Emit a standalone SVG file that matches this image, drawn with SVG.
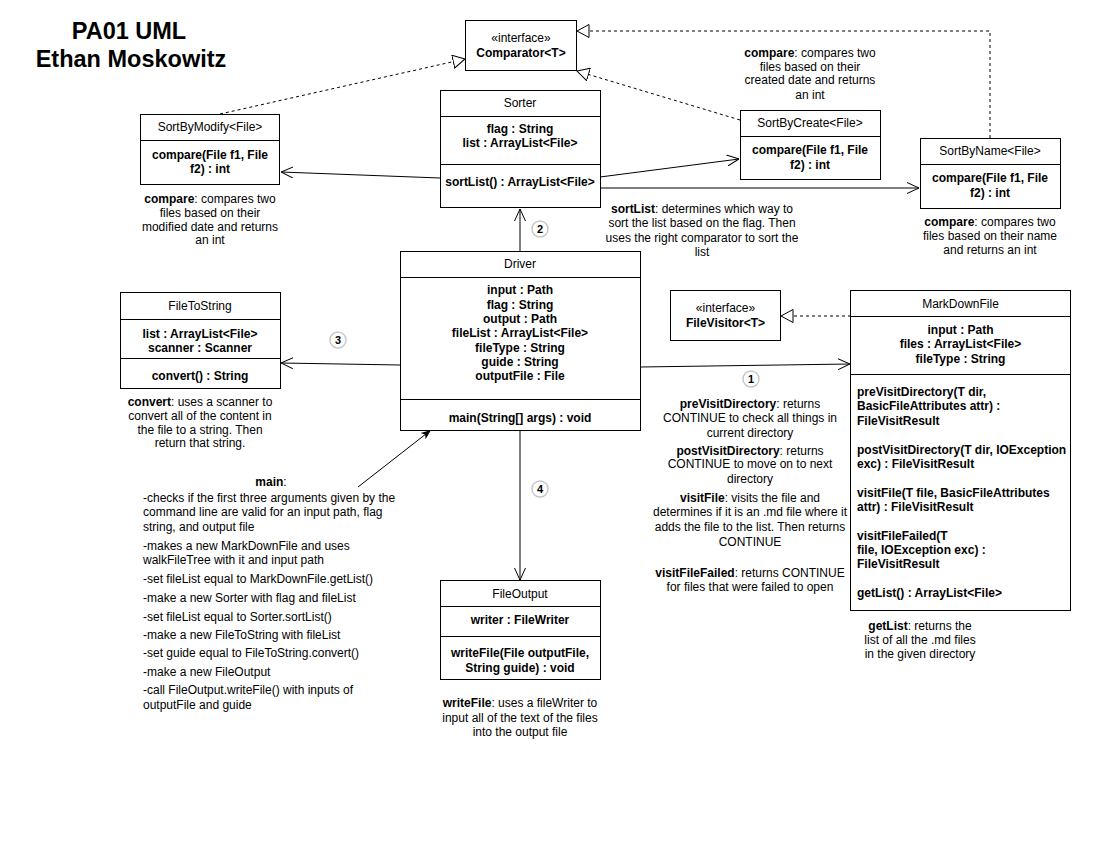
<svg xmlns="http://www.w3.org/2000/svg" width="1100" height="850" viewBox="0 0 1100 850">
  <style>
    text { font-family: "Liberation Sans", Arial, Helvetica, sans-serif; font-size: 12px; fill: #000; }
    .title { font-size: 23.5px; font-weight: bold; text-anchor: middle; }
    .c { text-anchor: middle; }
    .b { font-weight: bold; }
    .box { fill: #fff; stroke: #000; stroke-width: 1; }
    .sep { stroke: #000; stroke-width: 1; }
    .edge { fill: none; stroke: #000; stroke-width: 1; }
    .real { fill: none; stroke: #000; stroke-width: 1; stroke-dasharray: 3 3; }
    .step circle { fill: #fff; stroke: #c8c8c8; stroke-width: 1.5; }
    .step text { font-size: 11px; font-weight: bold; text-anchor: middle; }
  </style>
  <defs>
    <marker id="open" viewBox="0 0 12 12" refX="12" refY="6" markerWidth="12" markerHeight="12" markerUnits="userSpaceOnUse" orient="auto">
      <path d="M0,0.5 L12,6 L0,11.5" fill="none" stroke="#000" stroke-width="1"/>
    </marker>
    <marker id="tri" viewBox="0 0 13 14" refX="12.5" refY="7" markerWidth="13" markerHeight="14" markerUnits="userSpaceOnUse" orient="auto">
      <path d="M0.5,0.5 L12.5,7 L0.5,13.5 Z" fill="#fff" stroke="#000" stroke-width="1"/>
    </marker>
    <marker id="solid" viewBox="0 0 10 10" refX="10" refY="5" markerWidth="10" markerHeight="10" markerUnits="userSpaceOnUse" orient="auto">
      <path d="M0,1 L10,5 L0,9 L2.5,5 Z" fill="#000"/>
    </marker>
  </defs>

  <rect width="1100" height="850" fill="#fff"/>

  <!-- heading -->
  <g id="heading">
    <text class="title" x="129" y="39">PA01 UML</text>
    <text class="title" x="131" y="67">Ethan Moskowitz</text>
  </g>

  <!-- connectors -->
  <g id="connectors">
    <!-- realizations of Comparator -->
    <line class="real" x1="220" y1="114" x2="465" y2="59" marker-end="url(#tri)"/>
    <line class="real" x1="740" y1="120" x2="577" y2="71" marker-end="url(#tri)"/>
    <polyline class="real" points="990,138 990,31 577,31" marker-end="url(#tri)"/>
    <!-- realization of FileVisitor -->
    <line class="real" x1="851" y1="316" x2="781" y2="316" marker-end="url(#tri)"/>
    <!-- Sorter to comparators -->
    <line class="edge" x1="440" y1="178" x2="281" y2="172" marker-end="url(#open)"/>
    <line class="edge" x1="600" y1="177" x2="739" y2="159" marker-end="url(#open)"/>
    <line class="edge" x1="600" y1="188" x2="919" y2="188" marker-end="url(#open)"/>
    <!-- Driver to collaborators -->
    <line class="edge" x1="520" y1="251" x2="520" y2="209" marker-end="url(#open)"/>
    <line class="edge" x1="400" y1="365" x2="281" y2="363" marker-end="url(#open)"/>
    <line class="edge" x1="640" y1="367" x2="850" y2="364" marker-end="url(#open)"/>
    <line class="edge" x1="520" y1="430" x2="520" y2="580" marker-end="url(#open)"/>
    <!-- pointer from the main notes -->
    <line class="edge" x1="358" y1="487" x2="431" y2="430" stroke="#333" marker-end="url(#solid)"/>
  </g>

  <!-- step numbers -->
  <g id="steps">
    <g class="step"><circle cx="751" cy="379" r="8"/><text x="751" y="383">1</text></g>
    <g class="step"><circle cx="540" cy="229" r="8"/><text x="540" y="233">2</text></g>
    <g class="step"><circle cx="338" cy="340" r="8"/><text x="338" y="344">3</text></g>
    <g class="step"><circle cx="540" cy="489" r="8"/><text x="540" y="493">4</text></g>
  </g>

  <!-- interfaces -->
  <g id="comparator">
    <rect class="box" x="465.5" y="20.5" width="111" height="50"/>
    <text class="c" x="521" y="42">«interface»</text>
    <text class="c b" x="521" y="56.5">Comparator&lt;T&gt;</text>
  </g>
  <g id="filevisitor">
    <rect class="box" x="670.5" y="290.5" width="110" height="50"/>
    <text class="c" x="725.5" y="312">«interface»</text>
    <text class="c b" x="725.5" y="327">FileVisitor&lt;T&gt;</text>
  </g>

  <!-- classes -->
  <g id="sortbymodify">
    <rect class="box" x="140.5" y="114.5" width="139" height="70"/>
    <line class="sep" x1="140.5" y1="140.5" x2="279.5" y2="140.5"/>
    <text class="c" x="210" y="131">SortByModify&lt;File&gt;</text>
    <text class="c b" x="210" y="159">compare(File f1, File</text>
    <text class="c b" x="210" y="173">f2) : int</text>
  </g>

  <g id="sorter">
    <rect class="box" x="440.5" y="90.5" width="160" height="117"/>
    <line class="sep" x1="440.5" y1="116.5" x2="600.5" y2="116.5"/>
    <line class="sep" x1="440.5" y1="164.5" x2="600.5" y2="164.5"/>
    <text class="c" x="520" y="107">Sorter</text>
    <text class="c b" x="520" y="133">flag : String</text>
    <text class="c b" x="520" y="147">list : ArrayList&lt;File&gt;</text>
    <text class="c b" x="520" y="186">sortList() : ArrayList&lt;File&gt;</text>
  </g>

  <g id="sortbycreate">
    <rect class="box" x="740.5" y="110.5" width="140" height="69"/>
    <line class="sep" x1="740.5" y1="136.5" x2="880.5" y2="136.5"/>
    <text class="c" x="810" y="127">SortByCreate&lt;File&gt;</text>
    <text class="c b" x="810" y="154">compare(File f1, File</text>
    <text class="c b" x="810" y="169">f2) : int</text>
  </g>

  <g id="sortbyname">
    <rect class="box" x="920.5" y="138.5" width="140" height="70"/>
    <line class="sep" x1="920.5" y1="164.5" x2="1060.5" y2="164.5"/>
    <text class="c" x="990" y="155">SortByName&lt;File&gt;</text>
    <text class="c b" x="990" y="182">compare(File f1, File</text>
    <text class="c b" x="990" y="197">f2) : int</text>
  </g>

  <g id="driver">
    <rect class="box" x="400.5" y="251.5" width="240" height="179"/>
    <line class="sep" x1="400.5" y1="277.5" x2="640.5" y2="277.5"/>
    <line class="sep" x1="400.5" y1="399.5" x2="640.5" y2="399.5"/>
    <text class="c" x="520" y="268">Driver</text>
    <text class="c b" x="520" y="294">input : Path</text>
    <text class="c b" x="520" y="308.5">flag : String</text>
    <text class="c b" x="520" y="323">output : Path</text>
    <text class="c b" x="520" y="337">fileList : ArrayList&lt;File&gt;</text>
    <text class="c b" x="520" y="351.5">fileType : String</text>
    <text class="c b" x="520" y="366">guide : String</text>
    <text class="c b" x="520" y="380">outputFile : File</text>
    <text class="c b" x="520" y="422">main(String[] args) : void</text>
  </g>

  <g id="filetostring">
    <rect class="box" x="120.5" y="292.5" width="160" height="96"/>
    <line class="sep" x1="120.5" y1="319.5" x2="280.5" y2="319.5"/>
    <line class="sep" x1="120.5" y1="358.5" x2="280.5" y2="358.5"/>
    <text class="c" x="200" y="310">FileToString</text>
    <text class="c b" x="200" y="337.5">list : ArrayList&lt;File&gt;</text>
    <text class="c b" x="200" y="351.5">scanner : Scanner</text>
    <text class="c b" x="200" y="380">convert() : String</text>
  </g>

  <g id="markdownfile">
    <rect class="box" x="850.5" y="290.5" width="220" height="320"/>
    <line class="sep" x1="850.5" y1="316.5" x2="1070.5" y2="316.5"/>
    <line class="sep" x1="850.5" y1="374.5" x2="1070.5" y2="374.5"/>
    <text class="c" x="960.5" y="308">MarkDownFile</text>
    <text class="c b" x="960.5" y="334">input : Path</text>
    <text class="c b" x="960.5" y="348">files : ArrayList&lt;File&gt;</text>
    <text class="c b" x="960.5" y="362.5">fileType : String</text>
    <g class="b">
      <text x="857" y="395.5">preVisitDirectory(T dir,</text>
      <text x="857" y="410">BasicFileAttributes attr) :</text>
      <text x="857" y="424.5">FileVisitResult</text>
      <text x="857" y="454">postVisitDirectory(T dir, IOException</text>
      <text x="857" y="467.5">exc) : FileVisitResult</text>
      <text x="857" y="496.5">visitFile(T file, BasicFileAttributes</text>
      <text x="857" y="510.5">attr) : FileVisitResult</text>
      <text x="857" y="540">visitFileFailed(T</text>
      <text x="857" y="553.5">file, IOException exc) :</text>
      <text x="857" y="568">FileVisitResult</text>
      <text x="857" y="596.5">getList() : ArrayList&lt;File&gt;</text>
    </g>
  </g>

  <g id="fileoutput">
    <rect class="box" x="440.5" y="580.5" width="160" height="99"/>
    <line class="sep" x1="440.5" y1="606.5" x2="600.5" y2="606.5"/>
    <line class="sep" x1="440.5" y1="636.5" x2="600.5" y2="636.5"/>
    <text class="c" x="520" y="598">FileOutput</text>
    <text class="c b" x="520" y="624">writer : FileWriter</text>
    <text class="c b" x="520" y="657">writeFile(File outputFile,</text>
    <text class="c b" x="520" y="672">String guide) : void</text>
  </g>

  <!-- method notes -->
  <g id="notes">
    <g class="c">
      <text x="210" y="203"><tspan class="b">compare</tspan>: compares two</text>
      <text x="210" y="217">files based on their</text>
      <text x="210" y="231">modified date and returns</text>
      <text x="210" y="244">an int</text>

      <text x="810" y="57"><tspan class="b">compare</tspan>: compares two</text>
      <text x="810" y="70.5">files based on their</text>
      <text x="810" y="84">created date and returns</text>
      <text x="810" y="98.5">an int</text>

      <text x="990" y="225.5"><tspan class="b">compare</tspan>: compares two</text>
      <text x="990" y="239.5">files based on their name</text>
      <text x="990" y="254">and returns an int</text>

      <text x="702" y="213"><tspan class="b">sortList</tspan>: determines which way to</text>
      <text x="702" y="227">sort the list based on the flag. Then</text>
      <text x="702" y="242">uses the right comparator to sort the</text>
      <text x="702" y="255.5">list</text>

      <text x="200" y="406"><tspan class="b">convert</tspan>: uses a scanner to</text>
      <text x="200" y="419.5">convert all of the content in</text>
      <text x="200" y="433.5">the file to a string. Then</text>
      <text x="200" y="447">return that string.</text>

      <text x="750" y="408"><tspan class="b">preVisitDirectory</tspan>: returns</text>
      <text x="750" y="422">CONTINUE to check all things in</text>
      <text x="750" y="436.5">current directory</text>
      <text x="750" y="454.5"><tspan class="b">postVisitDirectory</tspan>: returns</text>
      <text x="750" y="468">CONTINUE to move on to next</text>
      <text x="750" y="483">directory</text>
      <text x="750" y="502"><tspan class="b">visitFile</tspan>: visits the file and</text>
      <text x="750" y="516">determines if it is an .md file where it</text>
      <text x="750" y="531">adds the file to the list. Then returns</text>
      <text x="750" y="545.5">CONTINUE</text>
      <text x="750" y="576.5"><tspan class="b">visitFileFailed</tspan>: returns CONTINUE</text>
      <text x="750" y="590.5">for files that were failed to open</text>

      <text x="920" y="629.5"><tspan class="b">getList</tspan>: returns the</text>
      <text x="920" y="644">list of all the .md files</text>
      <text x="920" y="658">in the given directory</text>

      <text x="520" y="707"><tspan class="b">writeFile</tspan>: uses a fileWriter to</text>
      <text x="520" y="721.5">input all of the text of the files</text>
      <text x="520" y="736">into the output file</text>

      <text x="271" y="486"><tspan class="b">main</tspan>:</text>
    </g>
    <text x="143" y="502.3">-checks if the first three arguments given by the</text>
    <text x="143" y="516.3">command line are valid for an input path, flag</text>
    <text x="143" y="531">string, and output file</text>
    <text x="143" y="549.6">-makes a new MarkDownFile and uses</text>
    <text x="143" y="564.3">walkFileTree with it and input path</text>
    <text x="143" y="583.2">-set fileList equal to MarkDownFile.getList()</text>
    <text x="143" y="601.8">-make a new Sorter with flag and fileList</text>
    <text x="143" y="620.7">-set fileList equal to Sorter.sortList()</text>
    <text x="143" y="638.7">-make a new FileToString with fileList</text>
    <text x="143" y="657.3">-set guide equal to FileToString.convert()</text>
    <text x="143" y="675.9">-make a new FileOutput</text>
    <text x="143" y="694.1">-call FileOutput.writeFile() with inputs of</text>
    <text x="143" y="708.5">outputFile and guide</text>
  </g>
</svg>
